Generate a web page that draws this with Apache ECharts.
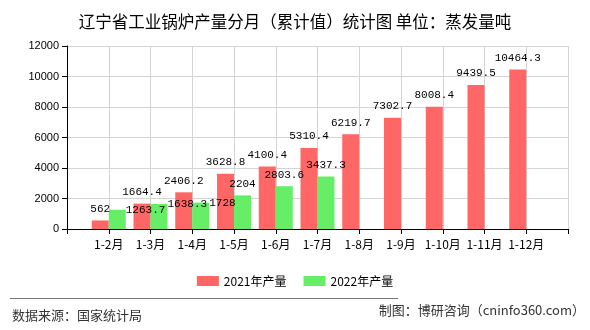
<!DOCTYPE html>
<html>
<head>
<meta charset="utf-8">
<script src="https://cdn.jsdelivr.net/npm/echarts@6/dist/echarts.min.js"></script>
<style>
  html, body { margin: 0; padding: 0; background: #fff; }
  #chart { width: 590px; height: 330px; }
</style>
</head>
<body>
<div id="chart"></div>
<script>
// Monthly cumulative boiler output, Liaoning (unit: tons of evaporation)
const months = ['1-2月', '1-3月', '1-4月', '1-5月', '1-6月', '1-7月', '1-8月', '1-9月', '1-10月', '1-11月', '1-12月'];
const output2021 = [562, 1664.4, 2406.2, 3628.8, 4100.4, 5310.4, 6219.7, 7302.7, 8008.4, 9439.5, 10464.3];
const output2022 = [1263.7, 1638.3, 1728, 2204, 2803.6, 3437.3];
const seriesNames = ['2021年产量', '2022年产量'];
const yTicks = { min: 0, max: 12000, interval: 2000 };

const RED = '#ff6666';
const GREEN = '#66ee66';
const NUM_FONT = 'Liberation Mono';
const CJK_FONT = 'Noto Sans CJK SC';

// Pad the axis with an empty slot at each end so the bar pairs sit on the split lines
const axisCats = [''].concat(months, ['']);
const pad = (arr) => ['-'].concat(arr, new Array(axisCats.length - 1 - arr.length).fill('-'));

// The first few 2022 labels are pushed to the right of their bars to keep them apart
const sideLabelCount = 3;
const data2022 = pad(output2022).map((v, i) => {
  if (i >= 1 && i <= sideLabelCount) {
    return {
      value: v,
      label: { position: ['100%', 0], align: 'left', verticalAlign: 'middle' }
    };
  }
  return v;
});

const labelStyle = {
  show: true,
  position: 'top',
  distance: 6,
  color: '#000',
  fontFamily: NUM_FONT,
  fontSize: 11
};

const chart = echarts.init(document.getElementById('chart'), null, { renderer: 'canvas' });
chart.setOption({
  backgroundColor: '#fff',
  animation: false,
  title: {
    text: '辽宁省工业锅炉产量分月（累计值）统计图 单位：蒸发量吨',
    left: 'center',
    top: 8,
    textStyle: { fontFamily: CJK_FONT, fontSize: 16.5, fontWeight: 'normal', color: '#000' }
  },
  grid: { left: 67, right: 22, top: 46, bottom: 101 },
  legend: {
    data: seriesNames,
    top: 270,
    left: 'center',
    icon: 'rect',
    itemWidth: 22,
    itemHeight: 10,
    itemGap: 17,
    textStyle: { fontFamily: CJK_FONT, fontSize: 12, color: '#000' }
  },
  xAxis: {
    type: 'category',
    data: axisCats,
    boundaryGap: false,
    axisLine: { lineStyle: { color: '#000', width: 1 } },
    axisTick: { show: true, interval: 0, length: 5, lineStyle: { color: '#000' } },
    axisLabel: { interval: 0, margin: 9, color: '#000', fontFamily: CJK_FONT, fontSize: 12 },
    splitLine: { show: true, interval: 0, lineStyle: { color: '#d4d4d4', width: 1 } }
  },
  yAxis: {
    type: 'value',
    min: yTicks.min,
    max: yTicks.max,
    interval: yTicks.interval,
    axisLine: { show: true, lineStyle: { color: '#000', width: 1 } },
    axisTick: { show: true, length: 5, lineStyle: { color: '#000' } },
    axisLabel: {
      margin: 8,
      color: '#000',
      fontFamily: 'Liberation Sans',
      fontSize: 11,
      formatter: (v) => String(v)
    },
    splitLine: { show: true, lineStyle: { color: '#d4d4d4', width: 1 } }
  },
  series: [
    {
      name: seriesNames[0],
      type: 'bar',
      data: pad(output2021),
      barWidth: 17,
      barGap: '0%',
      itemStyle: { color: RED },
      label: labelStyle
    },
    {
      name: seriesNames[1],
      type: 'bar',
      data: data2022,
      barWidth: 17,
      barGap: '0%',
      itemStyle: { color: GREEN },
      label: labelStyle
    }
  ],
  graphic: [
    {
      type: 'line',
      shape: { x1: 10, y1: 298.5, x2: 398, y2: 298.5 },
      style: { stroke: '#777', lineWidth: 1 }
    },
    {
      type: 'text',
      left: 12,
      top: 309,
      style: { text: '数据来源：国家统计局', fill: '#333', font: '13px "Noto Sans CJK SC"' }
    },
    {
      type: 'text',
      right: 5,
      top: 304,
      style: { text: '制图：博研咨询（cninfo360.com）', fill: '#333', font: '13px "Noto Sans CJK SC"' }
    }
  ]
});
</script>
</body>
</html>
